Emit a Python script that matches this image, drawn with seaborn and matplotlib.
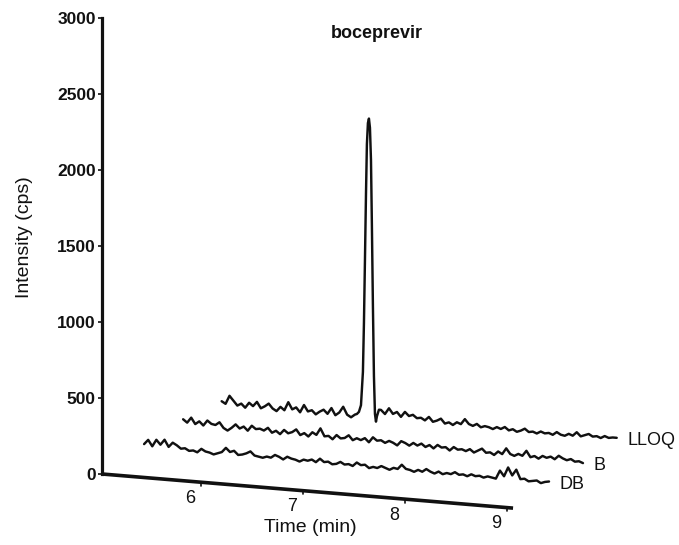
import numpy as np
import pandas as pd
import matplotlib
matplotlib.use("Agg")
import matplotlib.pyplot as plt
import seaborn as sns

# ---------------- data ----------------
title = "boceprevir"
x_label = "Time (min)"
y_label = "Intensity (cps)"
y_ticks = [0, 500, 1000, 1500, 2000, 2500, 3000]
time_ticks = [6, 7, 8, 9]
time_axis_range = [5.03, 9.06]

db_time_range = [5.08, 9.05]
db_intensity = [75, 105, 65, 110, 80, 115, 70, 100, 85, 65,
                70, 55, 60, 50, 75, 60, 55, 45, 55, 65,
                95, 70, 80, 55, 60, 70, 85, 60, 55, 50,
                60, 55, 75, 65, 50, 70, 60, 55, 45, 60,
                55, 65, 50, 75, 55, 60, 45, 50, 65, 50,
                55, 45, 70, 55, 60, 40, 50, 45, 60, 50,
                40, 55, 50, 80, 55, 50, 40, 55, 45, 65,
                50, 40, 55, 40, 50, 45, 60, 45, 50, 40,
                55, 45, 50, 40, 50, 45, 40, 95, 60, 120,
                70, 110, 50, 55, 40, 45, 50, 35, 45, 50]

b_time_range = [5.10, 9.02]
b_intensity = [115, 95, 130, 90, 110, 85, 120, 100, 95, 115,
               80, 65, 85, 110, 85, 100, 75, 110, 90, 95,
               85, 105, 75, 90, 70, 100, 80, 90, 110, 75,
               90, 70, 100, 85, 130, 80, 85, 65, 95, 75,
               80, 100, 70, 85, 75, 90, 65, 100, 80, 85,
               70, 85, 75, 60, 90, 80, 65, 85, 70, 85,
               65, 80, 60, 85, 70, 75, 55, 80, 65, 70,
               60, 75, 55, 70, 85, 60, 65, 50, 75, 60,
               100, 65, 55, 70, 60, 95, 55, 65, 50, 70,
               60, 70, 55, 80, 65, 55, 65, 50, 55, 45]

lloq_pre_range = [5.115, 6.422]
lloq_pre_intensity = [110, 95, 150, 120, 90, 105, 80, 115, 95, 125,
                      85, 100, 120, 90, 75, 105, 85, 140, 95, 110,
                      80, 130, 90, 100, 75, 95, 110, 85, 125, 80,
                      100, 140, 90, 75, 95]
lloq_peak_time = [6.441, 6.461, 6.481, 6.500, 6.510, 6.520, 6.530, 6.539,
                  6.549, 6.559, 6.569, 6.579, 6.588, 6.598, 6.608, 6.618,
                  6.628, 6.637, 6.657]
lloq_peak_intensity = [100, 115, 160, 380, 700, 1120, 1550, 1880,
                       2020, 2050, 1990, 1780, 1350, 820, 360, 110,
                       60, 95, 140]
lloq_post_range = [6.677, 8.988]
lloq_post_intensity = [140, 115, 155, 120, 135, 105, 140, 115, 125, 105,
                       110, 95, 120, 90, 100, 115, 85, 95, 80, 100,
                       90, 125, 95, 85, 100, 80, 90, 85, 75, 90,
                       80, 95, 75, 85, 70, 80, 95, 75, 80, 70,
                       85, 75, 80, 70, 90, 75, 70, 85, 75, 100,
                       75, 85, 95, 80, 85, 75, 90, 80, 85, 85]

# ---------------- pseudo-3D projection ----------------
T0 = time_axis_range[0]
SHEAR = 55.7        # cps drop per minute along the floor
DEPTH_DT = 0.3627   # min shift per depth level
DEPTH_DI = 144.7    # cps lift per depth level


def project(t, inten, depth):
    t = np.asarray(t, float)
    inten = np.asarray(inten, float)
    X = t + depth * DEPTH_DT
    return X, inten + depth * DEPTH_DI - SHEAR * (X - T0)


db_t = np.linspace(db_time_range[0], db_time_range[1], len(db_intensity))
b_t = np.linspace(b_time_range[0], b_time_range[1], len(b_intensity))
lloq_t = np.concatenate([
    np.linspace(lloq_pre_range[0], lloq_pre_range[1], len(lloq_pre_intensity)),
    lloq_peak_time,
    np.linspace(lloq_post_range[0], lloq_post_range[1], len(lloq_post_intensity)),
])
lloq_i = np.concatenate([lloq_pre_intensity, lloq_peak_intensity, lloq_post_intensity])

traces = [("DB", db_t, db_intensity, 1), ("B", b_t, b_intensity, 2), ("LLOQ", lloq_t, lloq_i, 3)]

# ---------------- figure ----------------
sns.set_theme(style="white")
plt.rcParams["font.family"] = ["Liberation Sans", "DejaVu Sans"]

fig = plt.figure(figsize=(6.79, 5.45), dpi=100)
ax = fig.add_axes([0, 0, 1, 1])
ax.set_xlim(4.03, 10.687)
ax.set_ylim(-467.1, 3118.4)

ink = "#111111"
for name, t, inten, depth in traces:
    X, Y = project(t, inten, depth)
    df = pd.DataFrame({"x": X, "y": Y})
    sns.lineplot(data=df, x="x", y="y", sort=False, estimator=None, ax=ax,
                 color=ink, linewidth=1.75)
    ax.annotate(name, xy=(X[-1], Y[-1]), xytext=(7.5, -2.0), textcoords="offset points",
                ha="left", va="center", fontsize=13, color=ink)

# vertical intensity axis (real spine)
for s in ["top", "right", "bottom"]:
    ax.spines[s].set_visible(False)
ax.spines["left"].set_position(("data", T0))
ax.spines["left"].set_bounds(0, 3000)
ax.spines["left"].set_linewidth(2.3)
ax.spines["left"].set_color(ink)
ax.set_yticks(y_ticks)
ax.set_yticklabels([str(v) for v in y_ticks], fontweight="bold")
ax.tick_params(axis="y", direction="out", length=3, width=1.2, pad=1.5,
               labelsize=12.5, colors=ink, left=True)
ax.set_xticks([])
ax.set_xlabel("")
ax.set_ylabel(y_label, fontsize=14, color=ink)
ax.yaxis.set_label_coords(33 / 679, 1 - 237 / 545)

# oblique time axis
AX, AY = project(time_axis_range, [0, 0], 0)
ax.plot(AX, AY, color=ink, linewidth=2.6, solid_capstyle="butt")
for tv in time_ticks:
    tx, ty = project([tv], [0], 0)
    ax.plot([tx[0], tx[0]], [ty[0], ty[0] - 25], color=ink, linewidth=1.2)
    ax.annotate(str(tv), xy=(tx[0], ty[0]), xytext=(-7.5, -11.5), textcoords="offset points",
                ha="center", va="center", fontsize=13, color=ink)

fig.text(310 / 679, 1 - 528 / 545, x_label, ha="center", va="center", fontsize=14, color=ink)
fig.text(377 / 679, 1 - 33 / 545, title, ha="center", va="center", fontsize=13,
         fontweight="bold", color=ink)

fig.savefig("out.png", dpi=100, facecolor="white")
